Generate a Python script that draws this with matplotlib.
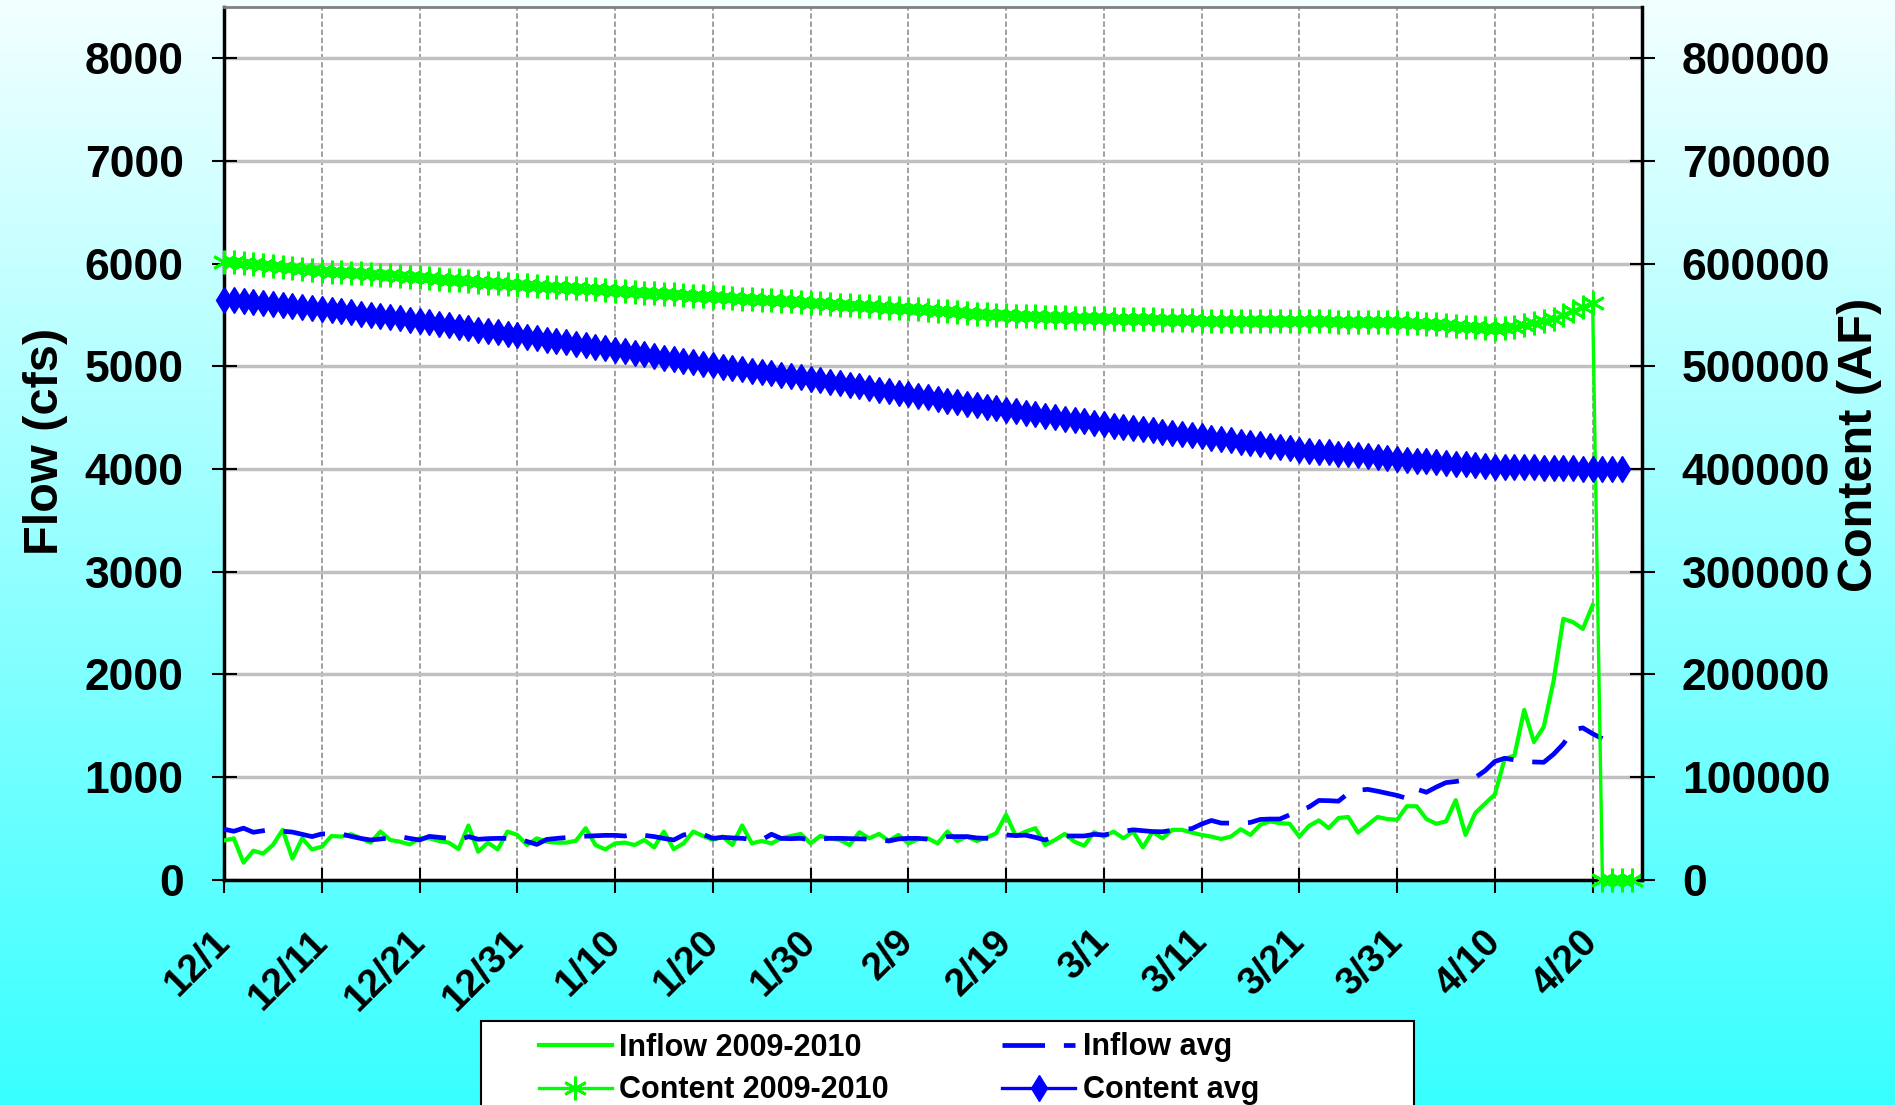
import matplotlib
matplotlib.use('Agg')
import matplotlib.pyplot as plt
import numpy as np
from matplotlib.patches import Rectangle

plt.rcParams['font.family'] = ['Liberation Sans', 'DejaVu Sans']
plt.rcParams['font.weight'] = 'bold'

# days counted from 12/1
TICK_DAYS = [0, 10, 20, 30, 40, 50, 60, 70, 80, 90, 100, 110, 120, 130, 140]
TICK_LABELS = ['12/1', '12/11', '12/21', '12/31', '1/10', '1/20', '1/30', '2/9',
               '2/19', '3/1', '3/11', '3/21', '3/31', '4/10', '4/20']

# daily inflow (cfs), 12/1 .. 4/20
INFLOW_0910 = [
    380, 401, 164, 280, 253, 336, 484, 204, 401, 293,
    319, 424, 418, 441, 401, 359, 467, 385, 368, 342,
    401, 401, 375, 359, 296, 526, 270, 359, 293, 467,
    434, 336, 401, 368, 359, 359, 378, 500, 336, 293,
    352, 359, 336, 385, 313, 467, 296, 352, 467, 424,
    385, 418, 336, 526, 352, 375, 352, 401, 424, 444,
    352, 424, 401, 385, 336, 461, 401, 444, 378, 434,
    352, 392, 401, 352, 467, 375, 418, 375, 408, 451,
    632, 424, 467, 500, 336, 385, 444, 368, 329, 461,
    418, 467, 401, 467, 313, 467, 400, 484, 484, 457,
    434, 418, 395, 418, 490, 434, 533, 566, 549, 543,
    418, 523, 576, 500, 599, 609, 457, 533, 609, 589,
    582, 714, 714, 589, 543, 566, 773, 434, 648, 740,
    829, 1175, 1207, 1652, 1339, 1487, 1932, 2540, 2507, 2441,
    2672,
]

# average daily inflow (cfs), 12/1 .. 4/21
INFLOW_AVG = [
    490, 470, 500, 460, 475, 490, 470, 462, 440, 418,
    444, 444, 444, 420, 400, 385, 395, 405, 418, 400,
    385, 420, 410, 401, 385, 418, 392, 398, 401, 401,
    401, 370, 342, 390, 400, 408, 418, 422, 426, 430,
    430, 424, 444, 430, 418, 400, 385, 434, 451, 440,
    401, 411, 405, 401, 390, 385, 441, 400, 398, 401,
    385, 395, 401, 401, 398, 396, 394, 390, 375, 395,
    401, 401, 393, 385, 418, 418, 418, 405, 401, 401,
    434, 428, 432, 410, 385, 420, 424, 424, 424, 440,
    434, 450, 470, 484, 475, 467, 465, 480, 490, 495,
    540, 575, 550, 549, 550, 556, 585, 589, 589, 630,
    670, 707, 770, 768, 763, 840, 870, 878, 860, 840,
    819, 790, 880, 850, 900, 944, 955, 970, 994, 1060,
    1150, 1181, 1165, 1150, 1145, 1142, 1220, 1320, 1460, 1477,
    1420, 1372,
]

# reservoir content (AF), 12/1 .. 4/24
CONTENT_0910 = [
    602000, 601100, 600200, 599300, 598400, 597500, 596600, 595700, 594800, 593900,
    593000, 592300, 591700, 591000, 590400, 589800, 589100, 588500, 587800, 587200,
    586500, 585800, 585100, 584400, 583700, 583000, 582300, 581600, 580900, 580200,
    579500, 578900, 578300, 577700, 577100, 576500, 576000, 575400, 574800, 574200,
    573600, 573000, 572400, 571800, 571200, 570600, 570100, 569500, 568900, 568300,
    567700, 567100, 566500, 565900, 565400, 564800, 564200, 563600, 563100, 562500,
    561900, 561300, 560700, 560100, 559500, 558900, 558400, 557800, 557200, 556600,
    556000, 555400, 554700, 554100, 553400, 552800, 552100, 551400, 550800, 550100,
    549500, 549200, 548900, 548600, 548300, 548000, 547800, 547500, 547200, 546900,
    546600, 546400, 546200, 546000, 545800, 545600, 545300, 545100, 544900, 544700,
    544500, 544500, 544400, 544400, 544300, 544300, 544200, 544200, 544100, 544100,
    544000, 543900, 543800, 543700, 543600, 543500, 543400, 543300, 543200, 543100,
    543000, 542500, 542000, 541400, 540800, 540100, 539400, 538600, 537800, 537000,
    536000, 537000, 538500, 540000, 542000, 544000, 546500, 550000, 553500, 557500,
    562000, 0, 0, 0, 0,
]

# average content (AF), 12/1 .. 4/23
CONTENT_AVG = [
    565000, 564100, 563200, 562300, 561400, 560500, 559600, 558700, 557800, 556900,
    556000, 554800, 553700, 552500, 551300, 550200, 549000, 547800, 546700, 545500,
    544300, 542900, 541500, 540100, 538700, 537200, 535800, 534400, 533000, 531600,
    530200, 528800, 527400, 526000, 524600, 523200, 521700, 520300, 518900, 517500,
    516100, 514600, 513100, 511500, 510000, 508500, 507000, 505500, 503900, 502400,
    500900, 499600, 498300, 497000, 495700, 494400, 493200, 491900, 490600, 489300,
    488000, 486500, 484900, 483400, 481900, 480400, 478800, 477300, 475800, 474200,
    472700, 471200, 469700, 468100, 466600, 465100, 463600, 462100, 460500, 459000,
    457500, 456100, 454700, 453300, 451900, 450500, 449000, 447600, 446200, 444800,
    443400, 442200, 441100, 439900, 438700, 437600, 436400, 435200, 434000, 432900,
    431700, 430400, 429100, 427800, 426500, 425300, 424000, 422700, 421400, 420100,
    418800, 417900, 416900, 416000, 415000, 414100, 413200, 412200, 411300, 410300,
    409400, 408700, 408000, 407300, 406600, 405900, 405100, 404400, 403700, 403000,
    402300, 402100, 401800, 401600, 401400, 401200, 400900, 400700, 400500, 400200,
    400000, 399800, 399600, 399500,
]

W, H = 1895, 1105
fig = plt.figure(figsize=(W / 100, H / 100), dpi=100)

# white -> cyan vertical gradient behind everything
bg = fig.add_axes([0, 0, 1, 1], zorder=-10)
t = np.linspace(0, 1, 256)[:, None]
red = 0.95 - 0.73 * t
grad = np.dstack([red, np.ones_like(red), np.ones_like(red)])
bg.imshow(grad, aspect='auto', extent=[0, 1, 0, 1])
bg.axis('off')

ax = fig.add_axes([224 / W, 1 - 879.5 / H, (1641.5 - 224) / W, (879.5 - 7) / H])
ax.set_facecolor('white')
ax2 = ax.twinx()

GREEN = '#00ff00'
BLUE = '#0000ff'

l1, = ax.plot(np.arange(len(INFLOW_0910)), INFLOW_0910, color=GREEN, lw=3,
              label='Inflow 2009-2010', zorder=3)
l2, = ax.plot(np.arange(len(INFLOW_AVG)), INFLOW_AVG, color=BLUE, lw=3.4,
              dashes=(9, 4), label='Inflow avg', zorder=3)
l3, = ax2.plot(np.arange(len(CONTENT_0910)), CONTENT_0910, color=GREEN, lw=2.4,
               marker=(6, 2, 0), ms=17, mew=2, label='Content 2009-2010', clip_on=False)
l4, = ax2.plot(np.arange(len(CONTENT_AVG)), CONTENT_AVG, color=BLUE, lw=2.4,
               marker='d', ms=13, label='Content avg', clip_on=False)

ax.set_xlim(0, 145)
ax.set_ylim(0, 8500)
ax2.set_ylim(0, 850000)
ax.set_yticks(range(0, 8001, 1000))
ax2.set_yticks(range(0, 800001, 100000))
ax.set_xticks(TICK_DAYS)
ax.set_xticklabels(TICK_LABELS, rotation=45, ha='right', va='center',
                   rotation_mode='anchor')

ax.set_axisbelow(True)
ax.yaxis.grid(True, color='#c0c0c0', lw=2.5, ls='-')
ax.xaxis.grid(True, color='#999999', lw=1.3, ls=(0, (3, 1.5)))

ax.tick_params(axis='y', direction='inout', length=18, width=1.5, labelsize=32, pad=20)
ax.tick_params(axis='x', direction='inout', length=18, width=1.5, labelsize=28, pad=32)
ax2.tick_params(axis='y', direction='inout', length=18, width=1.5, labelsize=32, pad=20)

for s in ['left', 'bottom']:
    ax.spines[s].set_color('black')
    ax.spines[s].set_linewidth(2.5)
ax.spines['top'].set_color('#808080')
ax.spines['top'].set_linewidth(2)
ax.spines['right'].set_visible(False)
for s in ['left', 'bottom', 'top']:
    ax2.spines[s].set_visible(False)
ax2.spines['right'].set_color('black')
ax2.spines['right'].set_linewidth(2.5)

fig.text(46 / W, 1 - 441 / H, 'Flow (cfs)', rotation=90, ha='center', va='center',
         fontsize=35)
fig.text(1860 / W, 1 - 445 / H, 'Content (AF)', rotation=90, ha='center', va='center',
         fontsize=35)

# legend box, cut off by the bottom edge like the original
fig.add_artist(Rectangle((481 / W, -0.03), (1414 - 481) / W, 0.03 + 1 - 1021 / H,
                         transform=fig.transFigure, facecolor='white',
                         edgecolor='black', lw=1.5, zorder=4))
fig.legend([l1, l3, l2, l4], [h.get_label() for h in [l1, l3, l2, l4]],
           loc='upper left', bbox_to_anchor=(511 / W, 1 - 1005 / H), ncol=2,
           frameon=False, fontsize=22, handlelength=2.4, handletextpad=0.25,
           columnspacing=3.7, labelspacing=0.42, numpoints=1)

fig.savefig('out.png', dpi=100)
